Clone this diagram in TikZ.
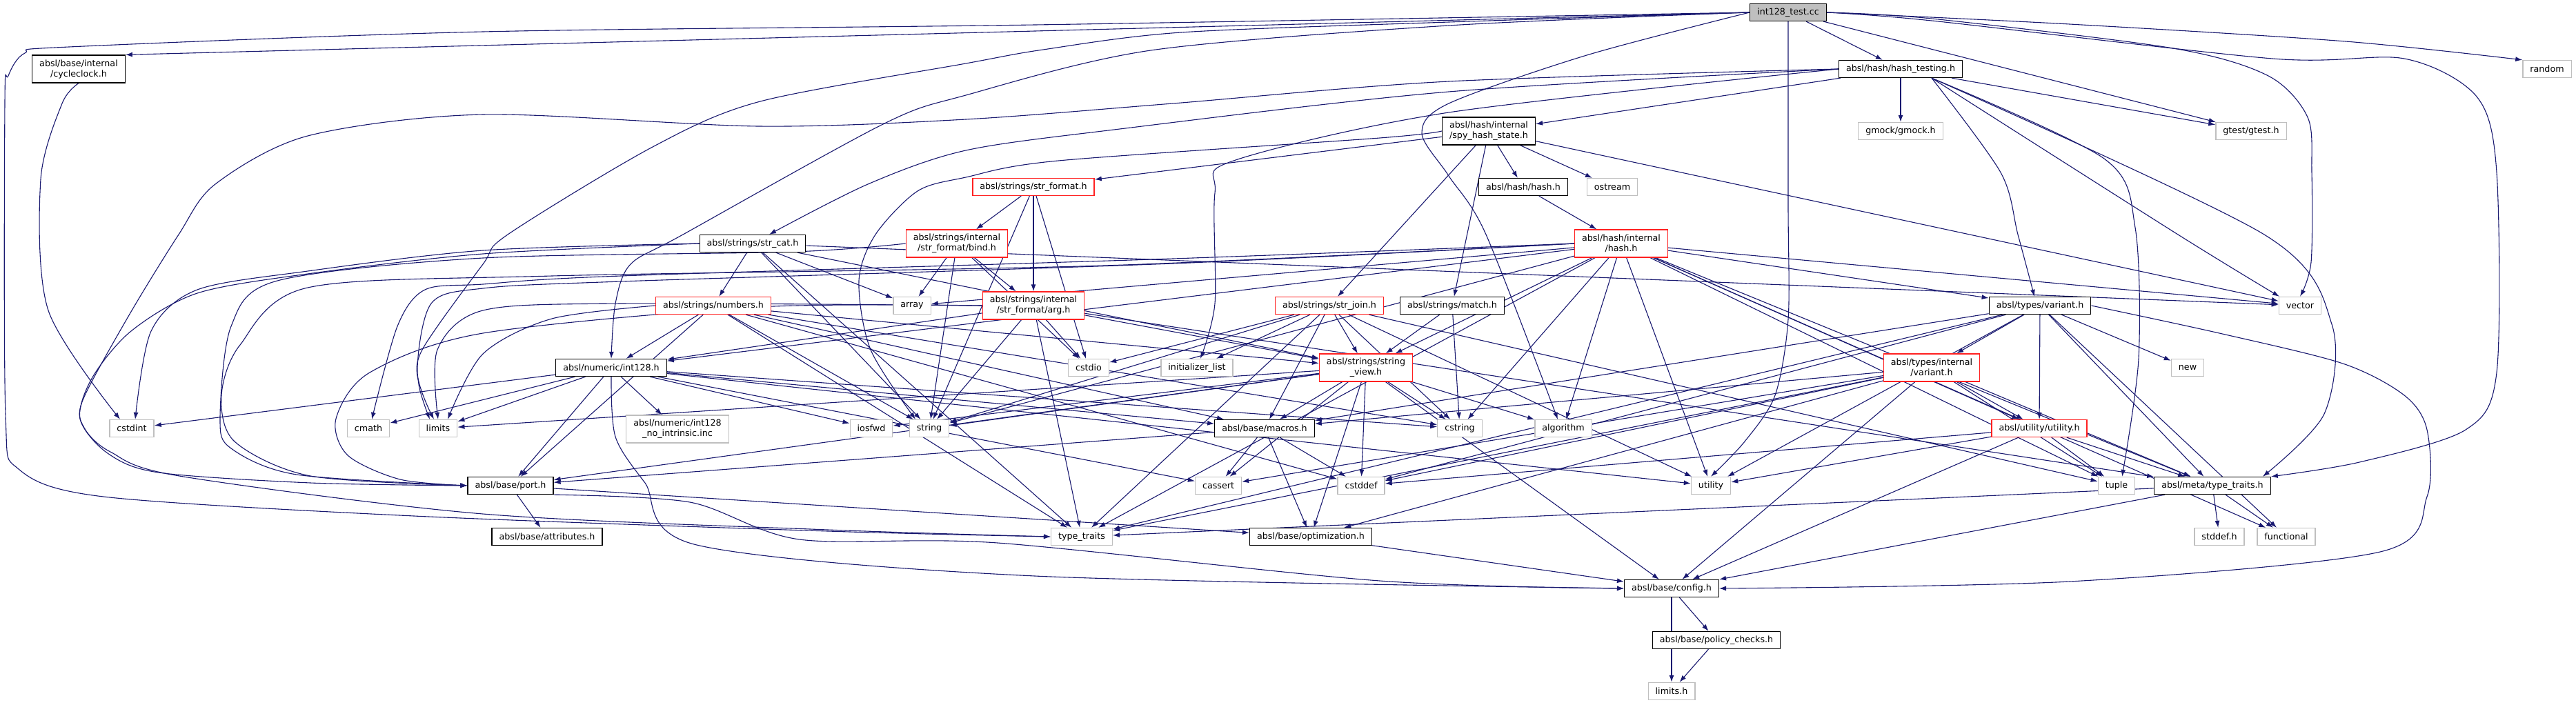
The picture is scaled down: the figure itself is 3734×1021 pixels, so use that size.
\documentclass[tikz,border=0pt]{standalone}
\usepackage{fontspec}
\setmainfont{DejaVu Sans}
\usetikzlibrary{arrows.meta}
\pgfdeclarelayer{back}
\pgfdeclarelayer{bg}
\pgfsetlayers{back,bg,main}
\definecolor{edgec}{HTML}{191970}
\definecolor{extc}{HTML}{BFBFBF}
\definecolor{redc}{HTML}{FF2020}
\begin{document}
\begin{tikzpicture}[x=1pt,y=-1pt,
  base/.style={rectangle, font=\fontsize{12.7pt}{15pt}\selectfont, inner xsep=10.5pt, inner ysep=2pt, minimum height=25pt, align=center, line width=1.3pt, fill=white},
  blk/.style={base, draw=black},
  rnode/.style={base, draw=redc},
  ext/.style={base, draw=extc},
  rt/.style={base, draw=black, fill=extc},
  tl/.style={minimum height=40pt},
  e/.style={draw=edgec, line width=1.1pt, -{Latex[length=10pt,width=7pt]}},
  sm/.style={smooth, tension=0.5}]
\useasboundingbox (0,0) rectangle (3734,1021);
\begin{pgfonlayer}{back}
\fill[white] (0,0) rectangle (3734,1021);
\end{pgfonlayer}
% nodes
\node[rt] (root) at (2592,18) {int128\_test.cc};
\node[blk,tl] (cycleclock) at (114,100) {absl/base/internal\\/cycleclock.h};
\node[blk] (hashtesting) at (2755,100) {absl/hash/hash\_testing.h};
\node[ext] (random) at (3692,100) {random};
\node[blk,tl] (spy) at (2158,190) {absl/hash/internal\\/spy\_hash\_state.h};
\node[ext] (gmock) at (2755,190) {gmock/gmock.h};
\node[ext] (gtest) at (3263,190) {gtest/gtest.h};
\node[rnode] (strformat) at (1498,271) {absl/strings/str\_format.h};
\node[blk] (hashh) at (2208,271) {absl/hash/hash.h};
\node[ext] (ostream) at (2337,271) {ostream};
\node[blk] (strcat) at (1091,353) {absl/strings/str\_cat.h};
\node[rnode,tl] (bind) at (1387,353) {absl/strings/internal\\/str\_format/bind.h};
\node[rnode,tl] (hashint) at (2350,353) {absl/hash/internal\\/hash.h};
\node[rnode] (numbers) at (1034,443) {absl/strings/numbers.h};
\node[ext] (array) at (1322,443) {array};
\node[rnode,tl] (arg) at (1498,443) {absl/strings/internal\\/str\_format/arg.h};
\node[rnode] (strjoin) at (1927,443) {absl/strings/str\_join.h};
\node[blk] (match) at (2105,443) {absl/strings/match.h};
\node[blk] (varianth) at (2957,443) {absl/types/variant.h};
\node[ext] (vector) at (3334,443) {vector};
\node[blk] (int128) at (886,533) {absl/numeric/int128.h};
\node[ext] (cstdio) at (1578,533) {cstdio};
\node[ext] (initlist) at (1735,533) {initializer\_list};
\node[rnode,tl] (stringview) at (1980,533) {absl/strings/string\\\_view.h};
\node[rnode,tl] (variantint) at (2800,533) {absl/types/internal\\/variant.h};
\node[ext] (new) at (3171,533) {new};
\node[ext] (cstdint) at (191,621) {cstdint};
\node[ext] (cmath) at (534,621) {cmath};
\node[ext] (limits) at (635,621) {limits};
\node[ext,tl] (noint) at (982,622) {absl/numeric/int128\\\_no\_intrinsic.inc};
\node[ext] (iosfwd) at (1263,621) {iosfwd};
\node[ext] (string) at (1347,621) {string};
\node[blk] (macros) at (1833,621) {absl/base/macros.h};
\node[ext] (cstring) at (2116,621) {cstring};
\node[ext] (algorithm) at (2266,621) {algorithm};
\node[rnode] (utilityh) at (2956,621) {absl/utility/utility.h};
\node[blk] (port) at (740,704) {absl/base/port.h};
\node[ext] (cassert) at (1766,704) {cassert};
\node[ext] (cstddef) at (1973,704) {cstddef};
\node[ext] (utility) at (2480,704) {utility};
\node[ext] (tuple) at (3068,704) {tuple};
\node[blk] (metatt) at (3207,704) {absl/meta/type\_traits.h};
\node[blk] (attributes) at (793,778) {absl/base/attributes.h};
\node[ext] (typetraits) at (1568,778) {type\_traits};
\node[blk] (optimization) at (1900,778) {absl/base/optimization.h};
\node[ext] (stddef) at (3217,778) {stddef.h};
\node[ext] (functional) at (3314,778) {functional};
\node[blk] (config) at (2423,853) {absl/base/config.h};
\node[blk] (policy) at (2488,928) {absl/base/policy\_checks.h};
\node[ext] (limitsh) at (2423,1002) {limits.h};
% edges
\begin{pgfonlayer}{bg}
\draw[e] (root.west) -- (cycleclock.north east);
\draw[e] plot[sm] coordinates {(root.west) (1500,36) (700,46) (100,68) (36,77) (12,110) (7,150) (8,600) (27,680) (150,720) (600,748) (1200,770) (typetraits.west)};
\draw[e] plot[sm] coordinates {(hashtesting.west) (2100,118) (1700,150) (1400,173) (1100,183) (700,166) (446,197) (312,267) (259,340) (187,457) (120,580) (122,620) (160,655) (260,690) (700,745) (1200,768) (typetraits.west)};
\draw[e] plot[sm] coordinates {(root.west) (2100,32) (1712,47) (1512,72) (1400,92) (1102,147) (946,213) (736,340) (700,383) (612,507) (607,557) ([xshift=-12pt]limits.north)};
\draw[e] plot[sm] coordinates {(root.west) (2100,37) (1668,73) (1400,138) (1280,180) (990,340) (914,383) (892,440) (int128.north)};
\draw[e] plot[sm] coordinates {(root.west) (2300,80) (2100,150) (2061,193) (2100,255) (2154,340) ([xshift=-8pt]algorithm.north)};
\draw[e] plot[sm] coordinates {(hashtesting.west) (2100,163) (1788,233) (1761,280) (1761,440) ([xshift=5pt]initlist.north)};
\draw[e] plot[sm] coordinates {(hashtesting.west) (2100,133) (1623,187) (1400,218) (1258,267) ([xshift=24pt]strcat.north)};
\draw[e] plot[sm] coordinates {(spy.west) (2000,200) (1534,233) (1400,257) (1330,277) (1269,340) (1245,407) (1262,507) ([xshift=-20pt]string.north)};
\draw[e] plot[sm] coordinates {(root.east) (2800,27) (3150,70) (3288,110) (3345,170) (3351,250) (3350,380) (vector.north)};
\draw[e] plot[sm] coordinates {(root.east) (2800,30) (3294,85) (3485,85) (3590,140) (3619,250) (3619,540) (3574,623) (3420,670) (metatt.north east)};
\draw[e] plot[sm] coordinates {(root.east) (3000,35) (3400,60) (random.north west)};
\draw[e] plot[sm] coordinates {(root.south) (2592,300) (2592,463) (2573,573) (2529,640) (utility.north)};
\draw[e] plot[sm] coordinates {([xshift=45pt]hashtesting.south) (3282,340) (3380,470) (3369,600) ([xshift=-12pt]metatt.north east)};
\draw[e] plot[sm] coordinates {([xshift=45pt]hashtesting.south) (2900,250) (2925,340) ([xshift=-8pt]varianth.north)};
\draw[e] plot[sm] coordinates {([xshift=45pt]hashtesting.south) (3157,340) ([xshift=-30pt]vector.north)};
\draw[e] plot[sm] coordinates {([xshift=45pt]hashtesting.south) (3050,230) (3095,330) (3100,520) ([xshift=8pt]tuple.north)};
\draw[e] plot[sm] coordinates {(varianth.east) (3217,483) (3396,527) (3485,573) (3518,623) (3518,720) (3450,800) (3000,843) (config.east)};
\draw[e] plot[sm] coordinates {(cycleclock.south) (90,150) (59,260) (70,450) ([xshift=-17pt]cstdint.north)};
\draw[e] plot[sm] coordinates {(strcat.west) (700,363) (446,393) (286,420) (219,480) ([xshift=5pt]cstdint.north)};
\draw[e] plot[sm] coordinates {(strcat.west) (700,368) (446,397) (286,425) (190,480) (134,547) (116,607) (156,657) (230,685) (450,700) (port.west)};
\draw[e] plot[sm] coordinates {(bind.west) (1150,365) (700,374) (402,407) (335,473) (319,607) (335,650) (430,688) (port.west)};
\draw[e] plot[sm] coordinates {(hashint.west) (1600,385) (800,400) (446,417) (348,500) (321,573) (340,640) (450,690) (port.west)};
\draw[e] plot[sm] coordinates {(arg.west) (1100,445) (700,483) (536,540) (487,607) (504,660) (580,695) (port.west)};
\draw[e] plot[sm] coordinates {(hashint.west) (1700,375) (900,400) (700,412) (616,420) (576,473) ([xshift=5pt]cmath.north)};
\draw[e] plot[sm] coordinates {(hashint.west) (1700,382) (900,408) (700,418) (625,440) (605,540) ([xshift=-6pt]limits.north)};
\draw[e] plot[sm] coordinates {(arg.west) (900,440) (700,450) (634,507) (limits.north)};
\draw[e] plot[sm] coordinates {(numbers.west) (800,462) (700,513) ([xshift=14pt]limits.north)};
\draw[e] plot[sm] coordinates {(port.south east) (1000,728) (1159,782) (1446,787) (2000,842) (config.west)};
\draw[e] plot[sm] coordinates {(int128.south) (892,633) (935,700) (1010,790) (1500,835) (config.west)};
\foreach \a/\b in {root/hashtesting, root/gtest,
 hashtesting/spy, hashtesting/gmock, hashtesting/gtest,
 spy/hashh, spy/ostream, spy/strformat, spy/match, spy/vector, spy/strjoin,
 hashh/hashint,
 hashint/algorithm, hashint/array, hashint/cstring, hashint/functional, hashint/string, hashint/tuple, hashint/typetraits, hashint/utility, hashint/vector, hashint/metatt, hashint/int128, hashint/stringview, hashint/varianth, hashint/utilityh,
 strformat/cstdio, strformat/string, strformat/arg, strformat/bind,
 bind/array, bind/cstdio, bind/string, bind/arg,
 arg/cstdio, arg/string, arg/typetraits, arg/metatt, arg/int128, arg/stringview,
 strcat/array, strcat/string, strcat/typetraits, strcat/vector, strcat/numbers, strcat/stringview,
 numbers/cstddef, numbers/cstring, numbers/string, numbers/typetraits, numbers/macros, numbers/port, numbers/int128, numbers/stringview,
 int128/cassert, int128/cmath, int128/cstdint, int128/cstring, int128/iosfwd, int128/limits, int128/utility, int128/macros, int128/port, int128/noint,
 strjoin/cstdio, strjoin/cstring, strjoin/initlist, strjoin/string, strjoin/tuple, strjoin/typetraits, strjoin/utility, strjoin/macros, strjoin/stringview,
 match/cstring, match/stringview,
 stringview/algorithm, stringview/config, stringview/cassert, stringview/cstddef, stringview/cstring, stringview/iosfwd, stringview/limits, stringview/string, stringview/macros, stringview/optimization, stringview/port,
 macros/cassert, macros/cstddef, macros/optimization, macros/port,
 port/attributes, port/optimization,
 optimization/config,
 varianth/cstddef, varianth/functional, varianth/new, varianth/typetraits, varianth/utility, varianth/macros, varianth/metatt, varianth/variantint, varianth/utilityh,
 variantint/cassert, variantint/cstddef, variantint/tuple, variantint/typetraits, variantint/config, variantint/macros, variantint/optimization, variantint/metatt, variantint/utilityh,
 utilityh/cstddef, utilityh/tuple, utilityh/utility, utilityh/config, utilityh/metatt,
 metatt/stddef, metatt/functional, metatt/typetraits, metatt/config,
 config/limitsh, config/policy, policy/limitsh}
 \draw[e] (\a) -- (\b);
\end{pgfonlayer}
\end{tikzpicture}
\end{document}
